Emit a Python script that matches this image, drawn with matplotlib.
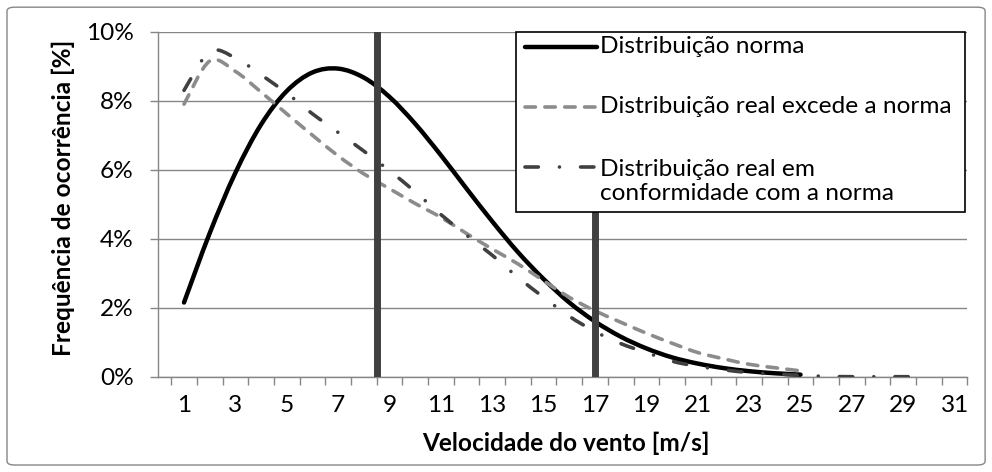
import matplotlib
matplotlib.use('Agg')
import matplotlib.pyplot as plt
from matplotlib.lines import Line2D
from matplotlib.patches import Rectangle, FancyBboxPatch, PathPatch
from matplotlib.path import Path
import numpy as np

plt.rcParams['font.family'] = ['Lato', 'DejaVu Sans']
plt.rcParams['lines.scale_dashes'] = False

# ---------------- data (frequency in %) ----------------
speed_norma = list(range(1, 26))
freq_norma = [2.15, 4.16, 5.91, 7.31, 8.28, 8.82, 8.93, 8.67, 8.11, 7.33,
              6.42, 5.45, 4.50, 3.61, 2.83, 2.15, 1.60, 1.16, 0.82, 0.56,
              0.38, 0.25, 0.16, 0.10, 0.06]

speed_excede = list(range(1, 26))
freq_excede = [7.90, 9.15, 8.85, 8.25, 7.62, 7.00, 6.40, 5.88, 5.45, 5.02,
               4.62, 4.15, 3.70, 3.27, 2.78, 2.30, 1.91, 1.58, 1.26, 0.97,
               0.70, 0.52, 0.36, 0.26, 0.17]

speed_conf = list(range(1, 31))
freq_conf = [8.30, 9.42, 9.24, 8.75, 8.22, 7.62, 7.08, 6.54, 5.97, 5.36,
             4.70, 4.10, 3.52, 2.88, 2.30, 1.75, 1.31, 0.96, 0.70, 0.45,
             0.30, 0.20, 0.12, 0.08, 0.04, 0.01, 0.00, 0.00, 0.00, 0.00]

vline_speeds = [8.5, 17]
x_tick_values = list(range(1, 32, 2))
y_tick_values = [0, 2, 4, 6, 8, 10]

legend_labels = ["Distribuição norma",
                 "Distribuição real excede a norma",
                 "Distribuição real em\nconformidade com a norma"]
x_title = "Velocidade do vento [m/s]"
y_title = "Frequência de ocorrência [%]"

# ---------------- styles ----------------
FS = 17.6
GRID = '#868686'
C_NORMA = '#000000'
C_EXC = '#8c8c8c'
C_CONF = '#404040'
C_VLINE = '#404040'

style_norma = dict(color=C_NORMA, lw=3.2, solid_capstyle='round')
style_exc = dict(color=C_EXC, lw=2.6, dashes=(7.5, 6.8), dash_capstyle='round')
style_conf = dict(color=C_CONF, lw=2.6, dashes=(9.6, 15.2, 0.01, 15.2), dash_capstyle='round')


def smooth_path(xs, ys):
    """Excel-like smoothed line: cubic Bezier segments through the data points."""
    p = np.column_stack([xs, ys]).astype(float)
    n = len(p)
    verts = [p[0]]
    codes = [Path.MOVETO]
    for i in range(n - 1):
        p_prev = p[i - 1] if i > 0 else p[i]
        p_next2 = p[i + 2] if i + 2 < n else p[i + 1]
        c1 = p[i] + (p[i + 1] - p_prev) / 6.0
        c2 = p[i + 1] - (p_next2 - p[i]) / 6.0
        verts += [c1, c2, p[i + 1]]
        codes += [Path.CURVE4] * 3
    return Path(verts, codes)


def add_smooth(ax, xs, ys, st, z=3):
    patch = PathPatch(smooth_path(xs, ys), fill=False, edgecolor=st['color'],
                      lw=st['lw'], zorder=z, transform=ax.transData)
    if 'dashes' in st:
        patch.set_linestyle((0, st['dashes']))
        patch.set_capstyle('round')
    else:
        patch.set_capstyle('round')
    patch.set_joinstyle('round')
    ax.add_patch(patch)


fig = plt.figure(figsize=(9.92, 4.72), dpi=100)
ax = fig.add_axes([0.1596, 0.2019, 0.8157, 0.7309])

add_smooth(ax, speed_norma, freq_norma, style_norma)
add_smooth(ax, speed_excede, freq_excede, style_exc)
add_smooth(ax, speed_conf, freq_conf, style_conf)

for v in vline_speeds:
    ax.axvline(v, color=C_VLINE, lw=5, zorder=4)

ax.set_xlim(0, 31.5)
ax.set_ylim(0, 10)

ax.set_xticks(x_tick_values)
ax.set_xticklabels([str(v) for v in x_tick_values], fontsize=FS)
ax.set_xticks(np.arange(0.5, 32, 1), minor=True)
ax.tick_params(axis='x', which='major', length=0, pad=13)
ax.tick_params(axis='x', which='minor', length=5.8, width=1, color=GRID, direction='out')

ax.set_yticks(y_tick_values)
ax.set_yticklabels([f"{v}%" for v in y_tick_values], fontsize=FS)
ax.tick_params(axis='y', length=5.8, width=1, color=GRID, pad=12)

ax.yaxis.grid(True, color=GRID, lw=1)
ax.set_axisbelow(True)
for s in ['top', 'right']:
    ax.spines[s].set_visible(False)
for s in ['left', 'bottom']:
    ax.spines[s].set_color(GRID)
    ax.spines[s].set_linewidth(1)

# legend drawn as an Excel-like box
lx0, lx1, ly0, ly1 = 0.442, 0.997, 0.477, 1.0
ax.add_patch(Rectangle((lx0, ly0), lx1 - lx0, ly1 - ly0, transform=ax.transAxes,
                       facecolor='white', edgecolor='black', lw=1.2, zorder=10, clip_on=False))
row_y = [0.9565, 0.7826, 0.6087]
styles = [style_norma, style_exc, style_conf]
for lab, yy, st in zip(legend_labels, row_y, styles):
    ax.add_line(Line2D([0.4532, 0.5420], [yy, yy], transform=ax.transAxes,
                       zorder=11, clip_on=False, **st))
    if '\n' in lab:
        ax.text(0.5457, yy - 0.087 / 2, lab, transform=ax.transAxes, fontsize=FS,
                ha='left', va='center', zorder=12, linespacing=1.2)
    else:
        ax.text(0.5457, yy, lab, transform=ax.transAxes, fontsize=FS,
                ha='left', va='center', zorder=12)

fig.text(0.5706, 0.0614, x_title, fontsize=FS, fontweight='bold', ha='center', va='center')
fig.text(0.0635, 0.5805, y_title, fontsize=FS, fontweight='bold', rotation=90,
         ha='center', va='center')

fig.add_artist(FancyBboxPatch((0.00706, 0.0148), 0.986, 0.970, transform=fig.transFigure,
                              boxstyle='round,pad=0,rounding_size=0.008',
                              facecolor='none', edgecolor=GRID, lw=1))

fig.savefig('out.png', dpi=100)
